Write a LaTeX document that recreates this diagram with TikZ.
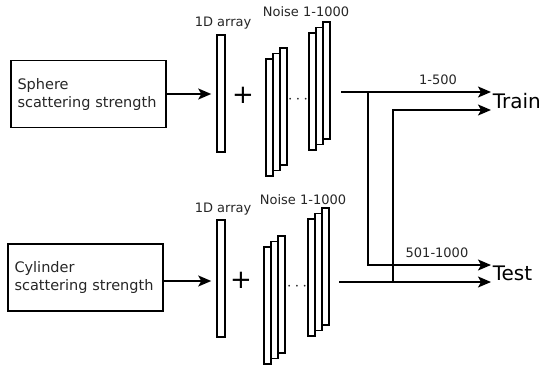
\documentclass[tikz,border=0pt]{standalone}
\usepackage{fontspec}
\setmainfont{DejaVu Sans}
\usetikzlibrary{arrows.meta}

\begin{document}
\begin{tikzpicture}[x=1pt,y=-1pt,line width=1.5pt,
	every node/.style={text=black!85},
	box/.style={draw=black,text width=142pt,inner xsep=6.5pt,minimum height=67pt,align=left,font=\fontsize{14.5}{18}\selectfont},
	arr/.style={draw=black,minimum width=8pt,minimum height=117pt,inner sep=0pt},
	strip/.style={draw=black,fill=white},
	lbl/.style={font=\fontsize{13}{15}\selectfont},
	plus/.style={font=\fontsize{26}{26}\selectfont,text=black},
	dotted/.style={font=\fontsize{17}{17}\selectfont},
	outlbl/.style={anchor=west,inner sep=1pt,font=\fontsize{20}{24}\selectfont,text=black},
	>={Stealth[length=13pt,width=11pt,inset=3pt]}]
			\useasboundingbox (0,0) rectangle (546,365);
			\node[box] (sphere) at (88.5,94) {Sphere\\scattering strength};
			\node[box] (cylinder) at (85.5,277.5) {Cylinder\\scattering strength};
			\node[arr] (arr1) at (221,93.5) {};
			\node[arr] (arr2) at (221,278.5) {};
			\node[lbl] (lab1) at (223,23) {1D array};
			\node[lbl] (lab2) at (223,209) {1D array};
			\node[plus] (plus1) at (243,95) {+};
			\node[plus] (plus2) at (241,280) {+};
			\foreach \x/\y in {266/59, 309/33, 264/247, 308/219}
				\foreach \i in {2,1,0}
					\draw[strip] ({\x+7*\i},{\y-5.5*\i}) rectangle ++(7,117);
			\node[lbl] (noise1) at (306,12) {Noise 1-1000};
			\node[lbl] (noise2) at (303,200) {Noise 1-1000};
			\node[dotted] (dots1) at (298,100) {$\cdots$};
			\node[dotted] (dots2) at (297,287) {$\cdots$};
			\coordinate (c1) at (sphere.east);
			\coordinate (c2) at ([yshift=-3.5pt]cylinder.east);
			\draw[->,shorten >=5pt] (c1) -- (c1 -| arr1.west);
			\draw[->,shorten >=5pt] (c2) -- (c2 -| arr2.west);
			\node[outlbl] (train) at (491,101) {Train};
			\node[outlbl] (test) at (491,273.5) {Test};
			\node[lbl] (part1) at (438,80) {1-500};
			\node[lbl] (part2) at (437,253) {501-1000};
			\coordinate (o1) at (341,92);
			\coordinate (o2) at (339,282);
			\coordinate (s1) at (368,92);
			\coordinate (s2) at (393,282);
			\draw[->] (o1) -- ([yshift=9pt]train.west);
			\draw[->] (o2) -- ([yshift=-8.5pt]test.west);
			\draw[->] (s1) |- ([yshift=8.5pt]test.west);
			\draw[->] (s2) |- ([yshift=-9pt]train.west);
		\end{tikzpicture}
\end{document}
